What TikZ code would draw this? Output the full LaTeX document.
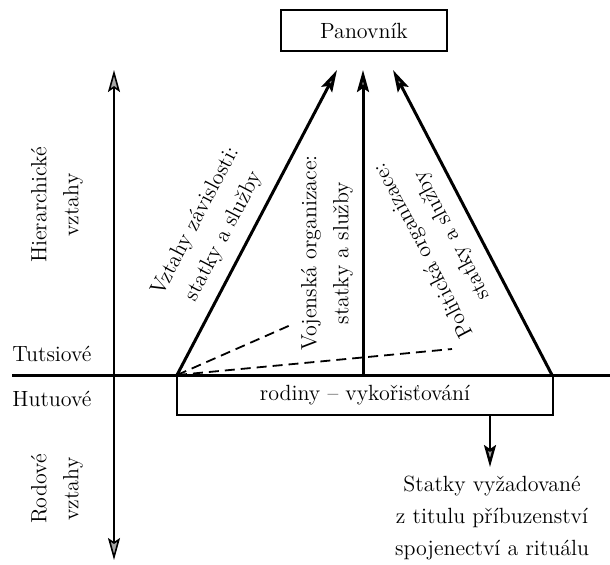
\documentclass[tikz,border=0pt]{standalone}
\usepackage{fontspec}
\usetikzlibrary{arrows.meta}
\begin{document}
\begin{tikzpicture}[x=0.5pt, y=-0.5pt,
  font=\fontsize{11}{16}\selectfont,
  tip/.style={-{Stealth[length=11pt, width=6pt, inset=2pt, fill=gray!70]}},
  heavy/.style={draw, line width=1.5pt},
  label/.style={align=center, inner sep=0pt}]
\useasboundingbox (0,0) rectangle (610,564);

\node[draw, thick, minimum width=83pt, minimum height=20.5pt] (king) at (364,30.5) {Panovník};
\node[draw, thick, minimum width=188pt, minimum height=20pt] (family) at (365,395) {rodiny -- vykořisťování};

\coordinate (west) at (12,375);
\coordinate (east) at (610,375);
\coordinate (left) at (177,375);
\coordinate (mid) at (363,375);
\coordinate (right) at (552,375);
\coordinate (tipleft) at (337,70);
\coordinate (tipmid) at (363,70);
\coordinate (tipright) at (393,70);
\coordinate (axistop) at (114,70);
\coordinate (axisbot) at (114,560);
\coordinate (dashone) at (293,324);
\coordinate (dashtwo) at (452,349);
\coordinate (down) at (490,467);

\path[draw, line width=0.8pt, tip] (114,375) -- (axistop);
\path[draw, line width=0.8pt, tip] (114,375) -- (axisbot);
\path[heavy] (west) -- (east);

\path[heavy, tip] (left) -- (tipleft);
\path[heavy, tip] (mid) -- (tipmid);
\path[heavy, tip] (right) -- (tipright);
\path[draw, line width=0.9pt, dash pattern=on 5pt off 3pt] (left) -- (dashone);
\path[draw, line width=0.9pt, dash pattern=on 5pt off 3pt] (left) -- (dashtwo);
\path[draw, line width=1.2pt, tip] (family.south -| down) -- (down);

\node[label, rotate=90] (hier) at (57,205) {\baselineskip=14.5pt Hierarchické\\vztahy};
\node[label, rotate=90] (clan) at (57,489) {\baselineskip=14.5pt Rodové\\vztahy};
\node[label, anchor=west] (tutsi) at (12,354) {Tutsiové};
\node[label, anchor=west] (hutu) at (12,399) {Hutuové};

\node[label, rotate=62.3] (depend) at (210,229) {Vztahy závislosti:\\statky a služby};
\node[label, rotate=90] (army) at (327,253) {Vojenská organizace:\\statky a služby};
\node[label, rotate=117.5] (politic) at (438,243) {Politická organizace:\\statky a služby};

\node[label, align=center] (tribute) at (492,518) {\baselineskip=14.5pt Statky vyžadované\\z titulu příbuzenství\\spojenectví a rituálu};
\end{tikzpicture}
\end{document}
